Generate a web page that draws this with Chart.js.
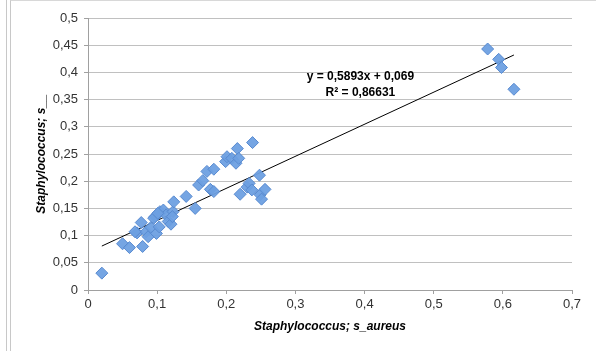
<!DOCTYPE html>
<html>
<head>
<meta charset="utf-8">
<script src="https://cdn.jsdelivr.net/npm/chart.js@4.4.0/dist/chart.umd.min.js"></script>
<style>
  html, body { margin: 0; padding: 0; background: #fff; }
  #wrap { position: relative; width: 596px; height: 351px; overflow: hidden; }
  #edge1 { position: absolute; left: 6px; top: 0; width: 0; height: 351px; border-left: 1px solid #c8c8c8; }
  #frame { position: absolute; left: 10px; top: 0; width: 600px; height: 360px; border-left: 1px solid #c8c8c8; border-top: 1px solid #d8d8d8; }
  canvas { position: absolute; left: 0; top: 0; }
</style>
</head>
<body>
<div id="wrap">
  <div id="edge1"></div>
  <div id="frame"></div>
  <canvas id="chart" width="596" height="351"></canvas>
</div>
<script>
// s_aureus abundance vs. genus abundance
const xValues = [0.020, 0.050, 0.060, 0.079, 0.071, 0.077, 0.084, 0.087, 0.091, 0.097,
  0.099, 0.103, 0.104, 0.109, 0.113, 0.116, 0.120, 0.123, 0.124, 0.142,
  0.155, 0.160, 0.166, 0.172, 0.182, 0.177, 0.182, 0.199, 0.201, 0.208,
  0.214, 0.216, 0.218, 0.238, 0.248, 0.220, 0.230, 0.233, 0.237, 0.249,
  0.251, 0.256, 0.068, 0.095, 0.122, 0.101, 0.578, 0.594, 0.598, 0.616];
const yValues = [0.031, 0.085, 0.078, 0.080, 0.105, 0.124, 0.107, 0.098, 0.115, 0.135,
  0.104, 0.116, 0.144, 0.147, 0.138, 0.126, 0.121, 0.144, 0.162, 0.172,
  0.150, 0.193, 0.201, 0.218, 0.222, 0.185, 0.181, 0.236, 0.245, 0.242,
  0.233, 0.260, 0.242, 0.271, 0.211, 0.176, 0.189, 0.196, 0.184, 0.175,
  0.167, 0.185, 0.107, 0.132, 0.135, 0.141, 0.443, 0.424, 0.409, 0.369];

const slope = 0.5893;
const intercept = 0.069;
const eqLines = ['y = 0,5893x + 0,069', 'R² = 0,86631'];

const points = xValues.map((x, i) => ({ x: x, y: yValues[i] }));
const xMin = Math.min(...xValues), xMax = Math.max(...xValues);
const trend = [xMin, xMax].map(x => ({ x: x, y: slope * x + intercept }));

const comma = v => String(Math.round(v * 100) / 100).replace('.', ',');

const eqLabel = {
  id: 'eqLabel',
  afterDatasetsDraw(c) {
    const ctx = c.ctx, xs = c.scales.x, ys = c.scales.y;
    ctx.save();
    ctx.font = 'bold 12px "Liberation Sans", Arial, sans-serif';
    ctx.fillStyle = '#000';
    ctx.textAlign = 'center';
    ctx.textBaseline = 'middle';
    ctx.fillText(eqLines[0], xs.getPixelForValue(0.394), ys.getPixelForValue(0.392));
    ctx.fillText(eqLines[1], xs.getPixelForValue(0.394), ys.getPixelForValue(0.362));
    ctx.restore();
  }
};

new Chart(document.getElementById('chart').getContext('2d'), {
  type: 'scatter',
  data: {
    datasets: [
      {
        data: points,
        pointStyle: 'rectRot',
        pointRadius: 6,
        pointBackgroundColor: 'rgba(110, 160, 226, 0.95)',
        pointBorderColor: 'rgba(88, 138, 208, 1)',
        pointBorderWidth: 1
      },
      {
        type: 'line',
        data: trend,
        borderColor: '#000',
        borderWidth: 1,
        pointRadius: 0,
        fill: false
      }
    ]
  },
  options: {
    responsive: false,
    animation: false,
    layout: { padding: { left: 0, top: 18, right: 24, bottom: 0 } },
    plugins: { legend: { display: false }, tooltip: { enabled: false } },
    scales: {
      x: {
        type: 'linear',
        min: 0, max: 0.7,
        afterFit: s => { s.height = 61; },
        ticks: { stepSize: 0.1, callback: comma, color: '#333', padding: 3,
          font: { family: '"Liberation Sans", Arial, sans-serif', size: 13 } },
        grid: { drawOnChartArea: false, drawTicks: true, tickLength: 4, color: '#a0a0a0' },
        border: { color: '#a0a0a0' },
        title: { display: true, text: 'Staphylococcus; s_aureus', color: '#000',
          padding: { top: 0, bottom: 17 },
          font: { family: '"Liberation Sans", Arial, sans-serif', size: 12, weight: 'bold', style: 'italic' } }
      },
      y: {
        min: 0, max: 0.5,
        afterFit: s => { s.width = 88; },
        ticks: { stepSize: 0.05, callback: comma, color: '#333', padding: 6,
          font: { family: '"Liberation Sans", Arial, sans-serif', size: 13 } },
        grid: { color: '#c0c0c0', tickLength: 4, tickColor: '#a0a0a0' },
        border: { color: '#a0a0a0' },
        title: { display: true, text: 'Staphylococcus; s__', color: '#000',
          padding: { top: 34, bottom: 0 },
          font: { family: '"Liberation Sans", Arial, sans-serif', size: 12, weight: 'bold', style: 'italic' } }
      }
    }
  },
  plugins: [eqLabel]
});
</script>
</body>
</html>
